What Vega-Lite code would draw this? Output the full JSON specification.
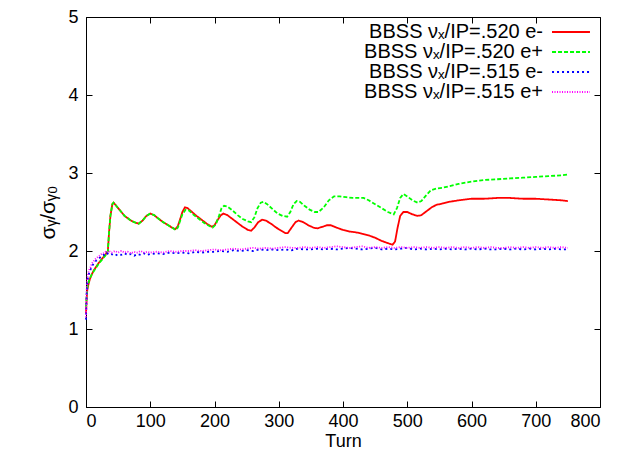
{
  "$schema": "https://vega.github.io/schema/vega-lite/v6.json",
  "width": 514,
  "height": 390,
  "autosize": "none",
  "padding": {"left": 86, "top": 17, "right": 24, "bottom": 42},
  "background": "white",
  "config": {
    "view": {"stroke": "black", "strokeWidth": 1},
    "font": "Liberation Sans",
    "axis": {
      "labelFont": "Liberation Sans",
      "titleFont": "Liberation Sans",
      "labelFontSize": 18,
      "titleFontSize": 18,
      "titleFontWeight": "normal",
      "labelColor": "black",
      "titleColor": "black",
      "domainColor": "black",
      "tickColor": "black",
      "grid": false,
      "tickSize": -6,
      "labelPadding": 14
    },
    "legend": {
      "labelFont": "Liberation Sans",
      "labelFontSize": 20,
      "labelColor": "black",
      "labelLimit": 400
    }
  },
  "data": {"values": [
    {"s":"a","t":0,"v":1.2},{"s":"a","t":1,"v":1.38},{"s":"a","t":2,"v":1.5},{"s":"a","t":4,"v":1.58},{"s":"a","t":6,"v":1.64},{"s":"a","t":9,"v":1.7},{"s":"a","t":12,"v":1.75},{"s":"a","t":16,"v":1.8},{"s":"a","t":20,"v":1.85},{"s":"a","t":25,"v":1.9},{"s":"a","t":30,"v":1.95},{"s":"a","t":34,"v":2.0},{"s":"a","t":36,"v":2.25},{"s":"a","t":38,"v":2.45},{"s":"a","t":41,"v":2.6},{"s":"a","t":43,"v":2.62},{"s":"a","t":47,"v":2.58},{"s":"a","t":50,"v":2.55},{"s":"a","t":55,"v":2.5},{"s":"a","t":60,"v":2.45},{"s":"a","t":65,"v":2.42},{"s":"a","t":70,"v":2.39},{"s":"a","t":75,"v":2.37},{"s":"a","t":82,"v":2.35},{"s":"a","t":88,"v":2.39},{"s":"a","t":94,"v":2.45},{"s":"a","t":100,"v":2.48},{"s":"a","t":106,"v":2.46},{"s":"a","t":112,"v":2.42},{"s":"a","t":120,"v":2.37},{"s":"a","t":128,"v":2.33},{"s":"a","t":134,"v":2.3},{"s":"a","t":139,"v":2.28},{"s":"a","t":143,"v":2.32},{"s":"a","t":147,"v":2.42},{"s":"a","t":150,"v":2.5},{"s":"a","t":154,"v":2.56},{"s":"a","t":158,"v":2.55},{"s":"a","t":165,"v":2.5},{"s":"a","t":172,"v":2.45},{"s":"a","t":180,"v":2.4},{"s":"a","t":188,"v":2.35},{"s":"a","t":196,"v":2.31},{"s":"a","t":200,"v":2.33},{"s":"a","t":205,"v":2.4},{"s":"a","t":210,"v":2.46},{"s":"a","t":214,"v":2.48},{"s":"a","t":220,"v":2.46},{"s":"a","t":228,"v":2.41},{"s":"a","t":236,"v":2.36},{"s":"a","t":244,"v":2.31},{"s":"a","t":252,"v":2.27},{"s":"a","t":257,"v":2.26},{"s":"a","t":262,"v":2.3},{"s":"a","t":268,"v":2.37},{"s":"a","t":274,"v":2.4},{"s":"a","t":280,"v":2.39},{"s":"a","t":288,"v":2.35},{"s":"a","t":296,"v":2.3},{"s":"a","t":304,"v":2.26},{"s":"a","t":310,"v":2.23},{"s":"a","t":314,"v":2.23},{"s":"a","t":320,"v":2.3},{"s":"a","t":326,"v":2.37},{"s":"a","t":331,"v":2.39},{"s":"a","t":338,"v":2.37},{"s":"a","t":346,"v":2.33},{"s":"a","t":354,"v":2.3},{"s":"a","t":360,"v":2.29},{"s":"a","t":368,"v":2.31},{"s":"a","t":375,"v":2.33},{"s":"a","t":381,"v":2.33},{"s":"a","t":390,"v":2.3},{"s":"a","t":400,"v":2.27},{"s":"a","t":410,"v":2.25},{"s":"a","t":420,"v":2.24},{"s":"a","t":430,"v":2.22},{"s":"a","t":440,"v":2.2},{"s":"a","t":450,"v":2.17},{"s":"a","t":460,"v":2.13},{"s":"a","t":470,"v":2.1},{"s":"a","t":477,"v":2.08},{"s":"a","t":481,"v":2.12},{"s":"a","t":485,"v":2.3},{"s":"a","t":489,"v":2.45},{"s":"a","t":494,"v":2.5},{"s":"a","t":500,"v":2.5},{"s":"a","t":508,"v":2.47},{"s":"a","t":516,"v":2.45},{"s":"a","t":522,"v":2.46},{"s":"a","t":530,"v":2.51},{"s":"a","t":538,"v":2.56},{"s":"a","t":545,"v":2.59},{"s":"a","t":555,"v":2.61},{"s":"a","t":565,"v":2.63},{"s":"a","t":580,"v":2.65},{"s":"a","t":600,"v":2.67},{"s":"a","t":620,"v":2.67},{"s":"a","t":640,"v":2.68},{"s":"a","t":660,"v":2.68},{"s":"a","t":680,"v":2.67},{"s":"a","t":700,"v":2.67},{"s":"a","t":720,"v":2.66},{"s":"a","t":740,"v":2.65},{"s":"a","t":750,"v":2.64},

    {"s":"b","t":0,"v":1.28},{"s":"b","t":1,"v":1.42},{"s":"b","t":2,"v":1.52},{"s":"b","t":4,"v":1.6},{"s":"b","t":6,"v":1.65},{"s":"b","t":9,"v":1.7},{"s":"b","t":12,"v":1.74},{"s":"b","t":16,"v":1.79},{"s":"b","t":20,"v":1.84},{"s":"b","t":25,"v":1.89},{"s":"b","t":30,"v":1.94},{"s":"b","t":34,"v":2.0},{"s":"b","t":36,"v":2.25},{"s":"b","t":38,"v":2.45},{"s":"b","t":41,"v":2.6},{"s":"b","t":43,"v":2.62},{"s":"b","t":47,"v":2.58},{"s":"b","t":50,"v":2.55},{"s":"b","t":55,"v":2.5},{"s":"b","t":60,"v":2.45},{"s":"b","t":65,"v":2.42},{"s":"b","t":70,"v":2.39},{"s":"b","t":75,"v":2.37},{"s":"b","t":82,"v":2.35},{"s":"b","t":88,"v":2.39},{"s":"b","t":94,"v":2.45},{"s":"b","t":100,"v":2.48},{"s":"b","t":106,"v":2.46},{"s":"b","t":112,"v":2.42},{"s":"b","t":120,"v":2.37},{"s":"b","t":128,"v":2.33},{"s":"b","t":134,"v":2.3},{"s":"b","t":139,"v":2.27},{"s":"b","t":143,"v":2.3},{"s":"b","t":147,"v":2.4},{"s":"b","t":150,"v":2.47},{"s":"b","t":155,"v":2.53},{"s":"b","t":160,"v":2.52},{"s":"b","t":168,"v":2.46},{"s":"b","t":176,"v":2.41},{"s":"b","t":184,"v":2.36},{"s":"b","t":192,"v":2.32},{"s":"b","t":197,"v":2.3},{"s":"b","t":202,"v":2.34},{"s":"b","t":207,"v":2.45},{"s":"b","t":211,"v":2.55},{"s":"b","t":215,"v":2.58},{"s":"b","t":220,"v":2.57},{"s":"b","t":228,"v":2.52},{"s":"b","t":236,"v":2.46},{"s":"b","t":244,"v":2.41},{"s":"b","t":252,"v":2.38},{"s":"b","t":257,"v":2.37},{"s":"b","t":262,"v":2.43},{"s":"b","t":267,"v":2.55},{"s":"b","t":272,"v":2.62},{"s":"b","t":276,"v":2.63},{"s":"b","t":282,"v":2.6},{"s":"b","t":290,"v":2.54},{"s":"b","t":298,"v":2.48},{"s":"b","t":306,"v":2.45},{"s":"b","t":313,"v":2.44},{"s":"b","t":318,"v":2.5},{"s":"b","t":323,"v":2.6},{"s":"b","t":328,"v":2.64},{"s":"b","t":333,"v":2.63},{"s":"b","t":340,"v":2.58},{"s":"b","t":348,"v":2.53},{"s":"b","t":356,"v":2.5},{"s":"b","t":362,"v":2.5},{"s":"b","t":370,"v":2.56},{"s":"b","t":378,"v":2.65},{"s":"b","t":386,"v":2.7},{"s":"b","t":395,"v":2.7},{"s":"b","t":405,"v":2.69},{"s":"b","t":415,"v":2.68},{"s":"b","t":425,"v":2.68},{"s":"b","t":432,"v":2.68},{"s":"b","t":440,"v":2.65},{"s":"b","t":450,"v":2.6},{"s":"b","t":460,"v":2.55},{"s":"b","t":470,"v":2.5},{"s":"b","t":479,"v":2.47},{"s":"b","t":484,"v":2.55},{"s":"b","t":489,"v":2.68},{"s":"b","t":494,"v":2.73},{"s":"b","t":500,"v":2.7},{"s":"b","t":508,"v":2.65},{"s":"b","t":516,"v":2.62},{"s":"b","t":522,"v":2.64},{"s":"b","t":530,"v":2.72},{"s":"b","t":537,"v":2.78},{"s":"b","t":545,"v":2.8},{"s":"b","t":555,"v":2.81},{"s":"b","t":565,"v":2.83},{"s":"b","t":580,"v":2.86},{"s":"b","t":600,"v":2.89},{"s":"b","t":620,"v":2.91},{"s":"b","t":640,"v":2.92},{"s":"b","t":660,"v":2.93},{"s":"b","t":680,"v":2.94},{"s":"b","t":700,"v":2.95},{"s":"b","t":720,"v":2.96},{"s":"b","t":740,"v":2.97},{"s":"b","t":750,"v":2.98},

    {"s":"c","t":0,"v":1.12},{"s":"c","t":1,"v":1.45},{"s":"c","t":2,"v":1.58},{"s":"c","t":3,"v":1.66},{"s":"c","t":5,"v":1.72},{"s":"c","t":7,"v":1.76},{"s":"c","t":9,"v":1.8},{"s":"c","t":12,"v":1.84},{"s":"c","t":15,"v":1.87},{"s":"c","t":18,"v":1.89},{"s":"c","t":21,"v":1.91},{"s":"c","t":24,"v":1.93},{"s":"c","t":27,"v":1.95},{"s":"c","t":30,"v":1.94},{"s":"c","t":33,"v":1.97},{"s":"c","t":36,"v":1.95},{"s":"c","t":40,"v":1.96},{"s":"c","t":45,"v":1.94},{"s":"c","t":50,"v":1.96},{"s":"c","t":55,"v":1.95},{"s":"c","t":60,"v":1.97},{"s":"c","t":65,"v":1.95},{"s":"c","t":70,"v":1.96},{"s":"c","t":75,"v":1.94},{"s":"c","t":80,"v":1.96},{"s":"c","t":85,"v":1.95},{"s":"c","t":90,"v":1.97},{"s":"c","t":95,"v":1.95},{"s":"c","t":100,"v":1.96},{"s":"c","t":110,"v":1.97},{"s":"c","t":120,"v":1.96},{"s":"c","t":130,"v":1.98},{"s":"c","t":140,"v":1.97},{"s":"c","t":150,"v":1.98},{"s":"c","t":160,"v":1.97},{"s":"c","t":170,"v":1.99},{"s":"c","t":180,"v":1.98},{"s":"c","t":190,"v":1.99},{"s":"c","t":200,"v":1.99},{"s":"c","t":210,"v":2.0},{"s":"c","t":220,"v":1.99},{"s":"c","t":230,"v":2.01},{"s":"c","t":240,"v":2.0},{"s":"c","t":250,"v":2.01},{"s":"c","t":260,"v":2.0},{"s":"c","t":270,"v":2.02},{"s":"c","t":280,"v":2.01},{"s":"c","t":290,"v":2.02},{"s":"c","t":300,"v":2.01},{"s":"c","t":310,"v":2.02},{"s":"c","t":320,"v":2.01},{"s":"c","t":330,"v":2.03},{"s":"c","t":340,"v":2.02},{"s":"c","t":350,"v":2.02},{"s":"c","t":360,"v":2.03},{"s":"c","t":370,"v":2.02},{"s":"c","t":380,"v":2.03},{"s":"c","t":390,"v":2.02},{"s":"c","t":400,"v":2.03},{"s":"c","t":410,"v":2.04},{"s":"c","t":420,"v":2.03},{"s":"c","t":430,"v":2.02},{"s":"c","t":440,"v":2.03},{"s":"c","t":450,"v":2.04},{"s":"c","t":460,"v":2.02},{"s":"c","t":470,"v":2.03},{"s":"c","t":480,"v":2.02},{"s":"c","t":490,"v":2.03},{"s":"c","t":500,"v":2.04},{"s":"c","t":510,"v":2.02},{"s":"c","t":520,"v":2.03},{"s":"c","t":530,"v":2.02},{"s":"c","t":540,"v":2.03},{"s":"c","t":550,"v":2.02},{"s":"c","t":560,"v":2.03},{"s":"c","t":570,"v":2.02},{"s":"c","t":580,"v":2.03},{"s":"c","t":590,"v":2.02},{"s":"c","t":600,"v":2.03},{"s":"c","t":610,"v":2.02},{"s":"c","t":620,"v":2.03},{"s":"c","t":630,"v":2.02},{"s":"c","t":640,"v":2.02},{"s":"c","t":650,"v":2.03},{"s":"c","t":660,"v":2.02},{"s":"c","t":670,"v":2.03},{"s":"c","t":680,"v":2.02},{"s":"c","t":690,"v":2.03},{"s":"c","t":700,"v":2.02},{"s":"c","t":710,"v":2.03},{"s":"c","t":720,"v":2.02},{"s":"c","t":730,"v":2.03},{"s":"c","t":740,"v":2.02},{"s":"c","t":750,"v":2.02},

    {"s":"d","t":0,"v":1.15},{"s":"d","t":1,"v":1.5},{"s":"d","t":2,"v":1.64},{"s":"d","t":3,"v":1.7},{"s":"d","t":5,"v":1.76},{"s":"d","t":7,"v":1.79},{"s":"d","t":9,"v":1.84},{"s":"d","t":12,"v":1.87},{"s":"d","t":15,"v":1.9},{"s":"d","t":18,"v":1.92},{"s":"d","t":21,"v":1.94},{"s":"d","t":24,"v":1.96},{"s":"d","t":27,"v":1.97},{"s":"d","t":30,"v":1.99},{"s":"d","t":33,"v":1.98},{"s":"d","t":36,"v":2.0},{"s":"d","t":40,"v":1.98},{"s":"d","t":45,"v":2.0},{"s":"d","t":50,"v":1.98},{"s":"d","t":55,"v":2.0},{"s":"d","t":60,"v":1.98},{"s":"d","t":65,"v":1.99},{"s":"d","t":70,"v":1.97},{"s":"d","t":75,"v":1.99},{"s":"d","t":80,"v":1.98},{"s":"d","t":85,"v":2.0},{"s":"d","t":90,"v":1.98},{"s":"d","t":95,"v":1.99},{"s":"d","t":100,"v":1.98},{"s":"d","t":110,"v":1.99},{"s":"d","t":120,"v":1.98},{"s":"d","t":130,"v":2.0},{"s":"d","t":140,"v":1.99},{"s":"d","t":150,"v":2.0},{"s":"d","t":160,"v":2.0},{"s":"d","t":170,"v":2.01},{"s":"d","t":180,"v":2.0},{"s":"d","t":190,"v":2.01},{"s":"d","t":200,"v":2.02},{"s":"d","t":210,"v":2.01},{"s":"d","t":220,"v":2.02},{"s":"d","t":230,"v":2.03},{"s":"d","t":240,"v":2.02},{"s":"d","t":250,"v":2.03},{"s":"d","t":260,"v":2.04},{"s":"d","t":270,"v":2.03},{"s":"d","t":280,"v":2.04},{"s":"d","t":290,"v":2.03},{"s":"d","t":300,"v":2.04},{"s":"d","t":310,"v":2.05},{"s":"d","t":320,"v":2.04},{"s":"d","t":330,"v":2.04},{"s":"d","t":340,"v":2.05},{"s":"d","t":350,"v":2.04},{"s":"d","t":360,"v":2.05},{"s":"d","t":370,"v":2.04},{"s":"d","t":380,"v":2.05},{"s":"d","t":390,"v":2.06},{"s":"d","t":400,"v":2.05},{"s":"d","t":410,"v":2.04},{"s":"d","t":420,"v":2.05},{"s":"d","t":430,"v":2.06},{"s":"d","t":440,"v":2.04},{"s":"d","t":450,"v":2.05},{"s":"d","t":460,"v":2.04},{"s":"d","t":470,"v":2.05},{"s":"d","t":480,"v":2.04},{"s":"d","t":490,"v":2.05},{"s":"d","t":500,"v":2.04},{"s":"d","t":510,"v":2.05},{"s":"d","t":520,"v":2.04},{"s":"d","t":530,"v":2.05},{"s":"d","t":540,"v":2.04},{"s":"d","t":550,"v":2.05},{"s":"d","t":560,"v":2.04},{"s":"d","t":570,"v":2.05},{"s":"d","t":580,"v":2.04},{"s":"d","t":590,"v":2.05},{"s":"d","t":600,"v":2.04},{"s":"d","t":610,"v":2.05},{"s":"d","t":620,"v":2.04},{"s":"d","t":630,"v":2.05},{"s":"d","t":640,"v":2.04},{"s":"d","t":650,"v":2.04},{"s":"d","t":660,"v":2.05},{"s":"d","t":670,"v":2.04},{"s":"d","t":680,"v":2.05},{"s":"d","t":690,"v":2.04},{"s":"d","t":700,"v":2.05},{"s":"d","t":710,"v":2.04},{"s":"d","t":720,"v":2.05},{"s":"d","t":730,"v":2.04},{"s":"d","t":740,"v":2.05},{"s":"d","t":750,"v":2.04}
  ]},
  "layer": [
    {
      "mark": {"type": "line", "strokeWidth": 1.8},
      "encoding": {
        "x": {"field": "t", "type": "quantitative",
              "scale": {"domain": [0, 800], "nice": false},
              "axis": {"values": [0,100,200,300,400,500,600,700,800], "title": "Turn", "titlePadding": 2, "labelPadding": 11}},
        "y": {"field": "v", "type": "quantitative",
              "scale": {"domain": [0, 5], "nice": false},
              "axis": {"values": [0,1,2,3,4,5], "title": "σᵧ/σᵧ₀", "titlePadding": 9, "titleFontSize": 21}},
        "color": {"field": "s", "type": "nominal",
                  "scale": {"domain": ["a","b","c","d"], "range": ["#ff0000","#00ff00","#0000ff","#ff00ff"]},
                  "legend": {"title": null, "orient": "none", "legendX": 475, "legendY": 5,
                             "labelAlign": "right", "labelOffset": -38, "symbolType": "M-4,0H4",
                             "symbolSize": 90, "symbolStrokeWidth": 1.8, "rowPadding": 0, "padding": 0,
                             "labelExpr": "datum.label == 'a' ? 'BBSS νₓ/IP=.520 e-' : datum.label == 'b' ? 'BBSS νₓ/IP=.520 e+' : datum.label == 'c' ? 'BBSS νₓ/IP=.515 e-' : 'BBSS νₓ/IP=.515 e+'"}},
        "strokeDash": {"field": "s", "type": "nominal",
                  "scale": {"domain": ["a","b","c","d"], "range": [[1,0],[4,2],[2,3],[1,1.5]]},
                  "legend": {"title": null, "orient": "none", "legendX": 475, "legendY": 5,
                             "labelAlign": "right", "labelOffset": -38, "symbolType": "M-4,0H4",
                             "symbolSize": 90, "symbolStrokeWidth": 1.8, "rowPadding": 0, "padding": 0,
                             "labelExpr": "datum.label == 'a' ? 'BBSS νₓ/IP=.520 e-' : datum.label == 'b' ? 'BBSS νₓ/IP=.520 e+' : datum.label == 'c' ? 'BBSS νₓ/IP=.515 e-' : 'BBSS νₓ/IP=.515 e+'"}}
      }
    },
    {
      "mark": {"type": "point", "opacity": 0},
      "encoding": {
        "x": {"field": "t", "type": "quantitative",
              "scale": {"domain": [0, 800], "nice": false},
              "axis": {"orient": "top", "values": [0,100,200,300,400,500,600,700,800], "labels": false, "title": null, "domain": false}},
        "y": {"field": "v", "type": "quantitative",
              "scale": {"domain": [0, 5], "nice": false},
              "axis": {"orient": "right", "values": [0,1,2,3,4,5], "labels": false, "title": null, "domain": false}}
      }
    }
  ],
  "resolve": {"axis": {"x": "independent", "y": "independent"}}
}
